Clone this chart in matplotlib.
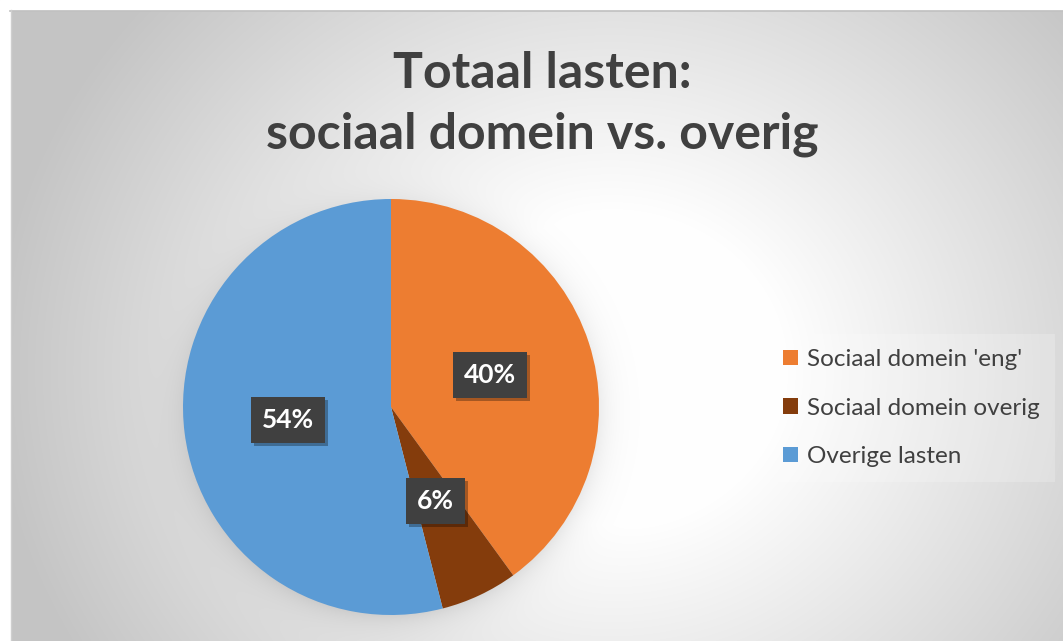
import numpy as np
import matplotlib
matplotlib.use("Agg")
import matplotlib.pyplot as plt
from matplotlib.patches import Rectangle

# ---- data ----
title = "Totaal lasten:\nsociaal domein vs. overig"
categories = ["Sociaal domein 'eng'", "Sociaal domein overig", "Overige lasten"]
values = [40, 6, 54]
colors = ["#ED7D31", "#843C0C", "#5B9BD5"]

W, H = 1063, 641
fig = plt.figure(figsize=(W / 100, H / 100), dpi=100)
fig.patch.set_facecolor("white")

# ---- background gradient (chart area) ----
pie_cx, pie_cy, pie_r = 391, 407, 208  # pixel layout of pie
yy, xx = np.mgrid[0:H, 0:W].astype(float)
cx, cy = 610, 370
r = np.sqrt((xx - cx) ** 2 + ((yy - cy) * 1.1) ** 2)
t = np.clip((r - 170) / (560 - 170), 0, 1.15)
v = 1 - 0.20 * t
# soft shadow around pie
rp = np.sqrt((xx - pie_cx) ** 2 + (yy - (pie_cy + 5)) ** 2)
sh = np.where(rp > pie_r - 5, 0.10 * np.exp(-np.clip(rp - pie_r + 5, 0, None) / 14), 0.10)
v = v * (1 - sh)
img = np.dstack([v, v, v])
bg = fig.add_axes([0, 0, 1, 1], zorder=0)
bg.imshow(img, extent=[0, W, H, 0], aspect="auto", interpolation="bilinear")
bg.set_xlim(0, W)
bg.set_ylim(H, 0)
bg.axis("off")
bg.add_patch(Rectangle((0, 0), 10, H, color="white", zorder=2))
bg.add_patch(Rectangle((0, 0), W, 10, color="white", zorder=2))
bg.plot([10, W], [10.5, 10.5], color="#bfbfbf", lw=1.2, zorder=3)
bg.plot([10.5, 10.5], [10, H], color="#cfcfcf", lw=1.0, zorder=3)

# ---- pie ----
ax = fig.add_axes([(pie_cx - pie_r) / W, (H - pie_cy - pie_r) / H,
                   2 * pie_r / W, 2 * pie_r / H], zorder=2)
ax.patch.set_alpha(0)
wedges, texts, autotexts = ax.pie(
    values, colors=colors, startangle=90, counterclock=False,
    autopct=lambda p: f"{p:.0f}%", pctdistance=0.5, radius=1,
    wedgeprops=dict(linewidth=0),
    textprops=dict(color="white", fontsize=19, fontweight="bold", family="Lato"))
for at in autotexts:
    at.set_bbox(dict(boxstyle="square,pad=0.42", fc="#404040", ec="none"))
    at.set_zorder(4)
ax.set_xlim(-1, 1)
ax.set_ylim(-1, 1)
ax.set_aspect("auto")

# ---- title ----
fig.text(542 / W, 1 - 104 / H, title, ha="center", va="center", fontsize=36,
         fontweight="bold", color="#404040", family="Lato", linespacing=1.4)

# ---- legend ----
leg = fig.legend(wedges, categories, loc="upper left",
                 bbox_to_anchor=(768 / W, 1 - 334 / H),
                 frameon=True, fancybox=False, framealpha=0.2,
                 facecolor="white", edgecolor="none",
                 prop=dict(family="Lato", size=17.5), labelcolor="#404040",
                 handlelength=0.6, handleheight=0.6, handletextpad=0.4,
                 labelspacing=1.13, borderpad=0.62, borderaxespad=0)

# shadow boxes behind the percentage labels
fig.canvas.draw()
inv = ax.transData.inverted()
for at in autotexts:
    bb = at.get_bbox_patch().get_window_extent()
    (x0, y0), (x1, y1) = inv.transform([[bb.x0 + 3, bb.y0 - 3], [bb.x1 + 3, bb.y1 - 3]])
    ax.add_patch(Rectangle((x0, y0), x1 - x0, y1 - y0, fc=(0, 0, 0, 0.3),
                           ec="none", zorder=3))

fig.savefig("out.png", dpi=100, facecolor=fig.get_facecolor())
